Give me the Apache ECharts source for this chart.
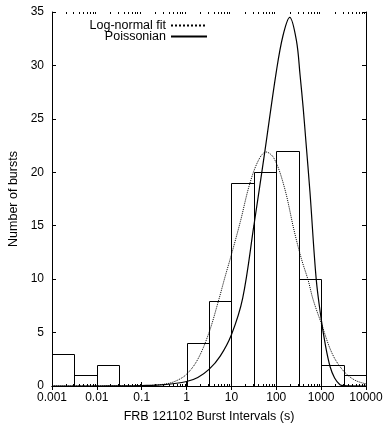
<!DOCTYPE html>
<html><head><meta charset="utf-8">
<script src="https://cdn.jsdelivr.net/npm/echarts@6/dist/echarts.min.js"></script>
<style>html,body{margin:0;padding:0;background:#fff}#c{width:386px;height:424px}</style>
</head><body><div id="c"></div>
<script>
// Histogram: bin edges as log10(seconds), counts per bin
const binEdgesLog = [-3, -2.5, -2, -1.5, -1, -0.5, 0, 0.5, 1, 1.5, 2, 2.5, 3, 3.5, 4];
const binCounts = [3, 1, 2, 0, 0, 0, 4, 8, 19, 20, 22, 10, 2, 1];

// Axis tick labels
const xTickLabels = ['0.001', '0.01', '0.1', '1', '10', '100', '1000', '10000'];
const yMin = 0, yMax = 35, yStep = 5;

// Log-normal fit (dotted), x as log10(seconds)
const lognormLogX = [-3, -1.5, -1, -0.5, -0.25, 0, 0.25, 0.5, 0.72, 0.85, 1.0, 1.2, 1.4, 1.6, 1.77, 1.95, 2.18, 2.4, 2.56, 2.71, 2.82, 3.0, 3.25, 3.5, 3.75, 4.0];
const lognormY    = [0, 0.0, 0.02, 0.17, 0.45, 1.1, 2.5, 5.0, 8.1, 10.1, 12.3, 15.4, 18.8, 21.1, 21.9, 21.3, 18.6, 14.5, 11.9, 9.9, 8.1, 5.9, 3.0, 1.4, 0.55, 0.2];

// Poissonian (solid)
const poissonLogX = [-3, -2, -1.5, -1, -0.5, 0, 0.25, 0.5, 0.75, 1.0, 1.25, 1.5, 1.75, 2.0, 2.15, 2.3, 2.45, 2.53, 2.6, 2.66, 2.75, 2.89, 3.0, 3.1, 3.2, 3.3, 3.42, 3.5, 4.0];
const poissonY    = [0, 0, 0.01, 0.04, 0.13, 0.42, 0.8, 1.55, 2.8, 4.8, 8.2, 15.0, 22.1, 29.4, 32.8, 34.5, 32.3, 29.1, 26.0, 22.9, 18.2, 10.0, 6.3, 3.7, 1.8, 0.75, 0.12, 0.03, 0];

const FONT = "'Liberation Sans', Arial, Helvetica, sans-serif";
const p10 = v => Math.pow(10, v);

const histData = binCounts.map((c, i) => [p10(binEdgesLog[i]), p10(binEdgesLog[i + 1]), c]);
const minorTicks = [];
for (let d = -3; d < 4; d++) for (let k = 2; k <= 9; k++) minorTicks.push([k * p10(d), 0]);

const crisp = v => Math.round(v) + 0.5;

const chart = echarts.init(document.getElementById('c'), null, {renderer: 'canvas'});
const xLabelFmt = v => xTickLabels[Math.round(Math.log10(v)) + 3] || '';

chart.setOption({
  animation: false,
  backgroundColor: '#fff',
  textStyle: {fontFamily: FONT},
  grid: {left: 52, top: 12, width: 314, height: 374, containLabel: false, outerBoundsMode: 'none'},
  legend: {
    orient: 'vertical', align: 'right', right: 173, top: 14,
    itemWidth: 36, itemHeight: 10, itemGap: -2,
    itemStyle: {opacity: 0},
    textStyle: {fontFamily: FONT, fontSize: 12.5, color: '#000'},
    data: ['Log-normal fit', 'Poissonian']
  },
  xAxis: [{
    type: 'log', logBase: 10, min: 0.001, max: 10000, splitNumber: 7,
    name: 'FRB 121102 Burst Intervals (s)', nameLocation: 'middle', nameGap: 24,
    nameTextStyle: {fontFamily: FONT, fontSize: 12.5, color: '#000'},
    axisLine: {lineStyle: {color: '#000', width: 1}},
    axisTick: {inside: true, length: 4, lineStyle: {color: '#000'}},
    axisLabel: {fontFamily: FONT, fontSize: 12, color: '#000', margin: 6, formatter: xLabelFmt},
    splitLine: {show: false}
  }, {
    type: 'log', logBase: 10, min: 0.001, max: 10000, splitNumber: 7, position: 'top',
    axisLine: {lineStyle: {color: '#000', width: 1}},
    axisTick: {inside: true, length: 4, lineStyle: {color: '#000'}},
    axisLabel: {show: false}, splitLine: {show: false}
  }],
  yAxis: [{
    type: 'value', min: yMin, max: yMax, interval: yStep,
    name: 'Number of bursts', nameLocation: 'middle', nameGap: 31,
    nameTextStyle: {fontFamily: FONT, fontSize: 12.5, color: '#000'},
    axisLine: {show: true, lineStyle: {color: '#000', width: 1}},
    axisTick: {show: true, inside: true, length: 4, lineStyle: {color: '#000'}},
    axisLabel: {fontFamily: FONT, fontSize: 12, color: '#000', margin: 8},
    splitLine: {show: false}
  }, {
    type: 'value', min: yMin, max: yMax, interval: yStep, position: 'right',
    axisLine: {show: true, lineStyle: {color: '#000', width: 1}},
    axisTick: {show: true, inside: true, length: 4, lineStyle: {color: '#000'}},
    axisLabel: {show: false}, splitLine: {show: false}
  }],
  series: [{
    type: 'custom', xAxisIndex: 0, yAxisIndex: 0, silent: true,
    encode: {x: [0, 1], y: 2},
    data: histData,
    renderItem: (params, api) => {
      const p0 = api.coord([api.value(0), 0]);
      const p1 = api.coord([api.value(1), api.value(2)]);
      const x0 = crisp(p0[0]), x1 = crisp(p1[0]), y0 = crisp(p0[1]), y1 = crisp(p1[1]);
      return {type: 'rect', shape: {x: x0, y: y1, width: x1 - x0, height: y0 - y1},
        style: {fill: 'none', stroke: '#000', lineWidth: 1}};
    },
    z: 2
  }, {
    type: 'custom', xAxisIndex: 0, yAxisIndex: 0, silent: true,
    encode: {x: 0, y: 1},
    data: minorTicks,
    renderItem: (params, api) => {
      const pb = api.coord([api.value(0), yMin]);
      const pt = api.coord([api.value(0), yMax]);
      const x = crisp(pb[0]);
      return {type: 'group', children: [
        {type: 'line', shape: {x1: x, y1: pb[1], x2: x, y2: pb[1] - 2}, style: {stroke: '#000', lineWidth: 1}},
        {type: 'line', shape: {x1: x, y1: pt[1], x2: x, y2: pt[1] + 2}, style: {stroke: '#000', lineWidth: 1}}
      ]};
    },
    z: 3
  }, {
    name: 'Log-normal fit', type: 'line', xAxisIndex: 0, yAxisIndex: 0,
    data: lognormLogX.map((u, i) => [p10(u), lognormY[i]]),
    smooth: 0.35, symbol: 'none', clip: true,
    lineStyle: {color: '#000', width: 1, type: 'dotted'},
    itemStyle: {color: '#000'}, z: 4
  }, {
    name: 'Poissonian', type: 'line', xAxisIndex: 0, yAxisIndex: 0,
    data: poissonLogX.map((u, i) => [p10(u), poissonY[i]]),
    smooth: 0.35, symbol: 'none', clip: true,
    lineStyle: {color: '#000', width: 1.2, type: 'solid'},
    itemStyle: {color: '#000'}, z: 4
  }]
});
</script></body></html>
